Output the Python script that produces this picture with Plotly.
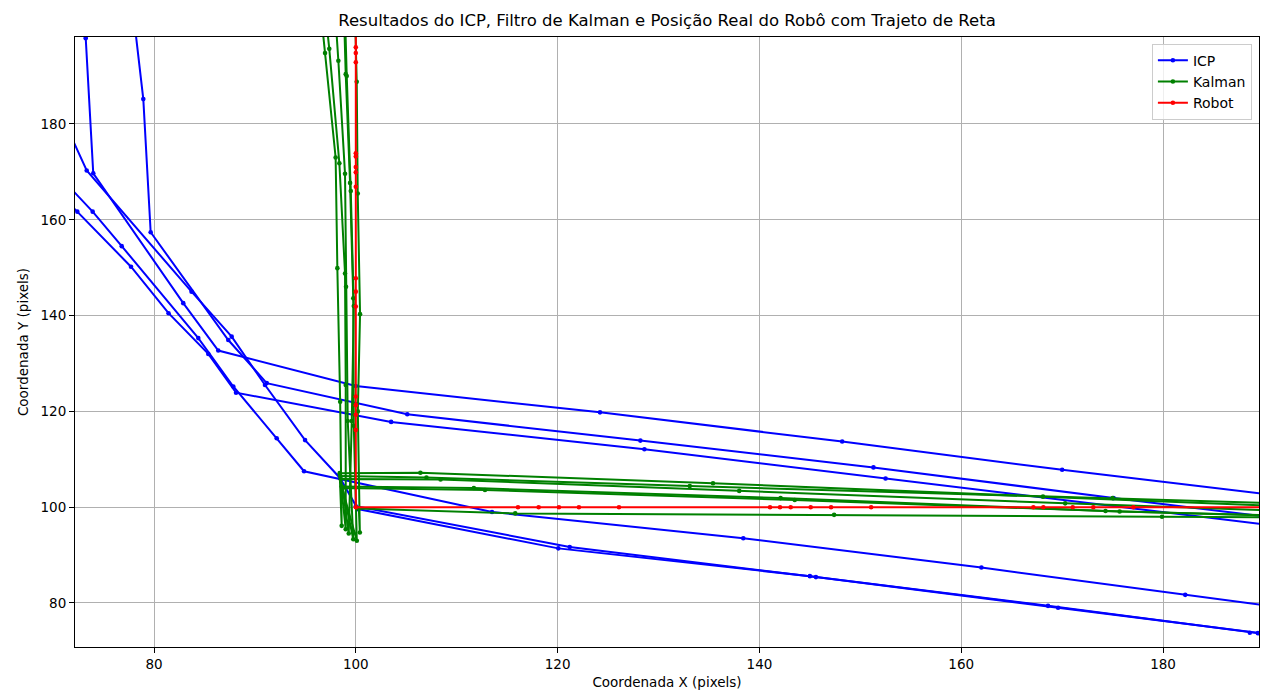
import plotly.graph_objects as go

# ---------------- data ----------------
# ICP estimate: passes (steep leg from upper-left, then shallow leg to the right)
icp_x_p1 = [72.78, 73.23, 73.98, 82.9, 86.37, 100.0, 124.2, 148.2, 170.0, 205.0]
icp_y_p1 = [215.0, 197.9, 169.7, 142.6, 132.7, 125.3, 119.8, 113.7, 107.8, 99.0]
icp_x_p2 = [77.3, 78.94, 79.67, 87.36, 91.17, 105.1, 128.2, 151.3, 175.1, 205.0]
icp_y_p2 = [215.0, 185.2, 157.4, 134.9, 125.9, 119.4, 113.9, 108.3, 101.9, 94.2]
icp_x_p3 = [66.0, 72.4, 77.72, 81.44, 85.38, 88.13, 103.5, 128.6, 152.5, 205.0]
icp_y_p3 = [175.5, 161.7, 150.2, 140.5, 132.0, 123.9, 117.8, 112.1, 106.0, 92.6]
icp_x_p4 = [66.0, 73.92, 76.8, 84.39, 87.86, 92.16, 94.87, 113.5, 138.4, 162.0, 182.2, 205.0]
icp_y_p4 = [179.4, 161.7, 154.5, 135.3, 125.2, 114.4, 107.5, 99.0, 93.5, 87.4, 81.7, 75.3]
icp_x_p5 = [66.0, 73.33, 83.72, 87.7, 91.0, 94.97, 98.43, 100.2, 120.07, 145.0, 168.6, 188.6, 205.0]
icp_y_p5 = [204.0, 170.3, 145.0, 135.6, 125.5, 114.0, 106.1, 99.6, 91.4, 85.6, 79.4, 73.8, 69.4]
icp_x_p6 = [100.0, 121.2, 145.6, 169.6, 189.4, 205.0]
icp_y_p6 = [100.2, 91.7, 85.4, 79.0, 73.7, 69.6]

# Kalman filter estimate: six passes (down the x~98-100 line, then right along y~98-107)
kal_x_p1 = [96.46, 96.95, 98.0, 98.17, 98.45, 98.6, 98.4, 106.4, 135.4, 168.1, 205.0]
kal_y_p1 = [205.0, 194.8, 173.0, 149.9, 122.0, 96.1, 107.1, 107.2, 105.0, 102.2, 99.1]
kal_x_p2 = [96.9, 97.37, 98.37, 98.93, 99.0, 99.0, 98.45, 107.0, 133.1, 175.0, 205.0]
kal_y_p2 = [205.0, 195.7, 171.8, 148.8, 125.5, 95.4, 106.5, 106.2, 104.4, 101.9, 100.0]
kal_x_p3 = [97.9, 98.27, 98.93, 99.03, 99.2, 99.75, 98.5, 108.4, 138.0, 170.3, 205.0]
kal_y_p3 = [205.0, 193.2, 169.6, 146.0, 118.0, 93.3, 105.9, 105.8, 103.4, 100.8, 98.3]
kal_x_p4 = [98.8, 99.0, 99.43, 99.75, 99.8, 100.1, 98.6, 111.7, 142.1, 174.3, 205.0]
kal_y_p4 = [205.0, 190.4, 167.7, 143.6, 117.0, 93.0, 104.3, 104.0, 101.9, 99.2, 97.4]
kal_x_p5 = [99.9, 100.09, 100.19, 100.42, 100.2, 100.4, 100.3, 115.8, 147.4, 179.9, 205.0]
kal_y_p5 = [205.0, 188.8, 165.5, 140.3, 120.0, 94.7, 99.7, 98.7, 98.4, 98.0, 97.7]
kal_x_p6 = [98.9, 99.1, 99.5, 99.8, 99.6, 99.3, 98.7, 112.8, 143.5, 175.7, 205.0]
kal_y_p6 = [205.0, 190.0, 166.0, 142.0, 118.0, 94.5, 104.0, 103.6, 101.5, 99.1, 97.6]

# Real robot position: straight down x=100, then right along y=100
robot_x = [100.0] * 17 + [116.07, 118.12, 120.13, 122.11, 126.08, 141.05, 142.04, 143.1,
                          145.08, 147.1, 151.07, 167.15, 168.14, 171.05, 173.09, 177.06, 205.0]
robot_y = [205.0, 196.0, 194.8, 192.9, 173.9, 173.2, 171.0, 169.9, 166.9, 147.8, 145.0, 141.9,
           123.1, 121.3, 119.3, 116.1, 100.0] + [100.0] * 17

x_ticks = [80, 100, 120, 140, 160, 180]
y_ticks = [80, 100, 120, 140, 160, 180]
x_range = [72.17, 189.51]
y_range = [70.81, 198.16]


def join(passes):
    out = []
    for i, p in enumerate(passes):
        if i:
            out.append(None)
        out.extend(p)
    return out


icp_x = join([icp_x_p1, icp_x_p2, icp_x_p3, icp_x_p4, icp_x_p5, icp_x_p6])
icp_y = join([icp_y_p1, icp_y_p2, icp_y_p3, icp_y_p4, icp_y_p5, icp_y_p6])
kal_x = join([kal_x_p1, kal_x_p2, kal_x_p3, kal_x_p4, kal_x_p5, kal_x_p6])
kal_y = join([kal_y_p1, kal_y_p2, kal_y_p3, kal_y_p4, kal_y_p5, kal_y_p6])

FONT = "DejaVu Sans"

fig = go.Figure()
for name, xs, ys, col in [("ICP", icp_x, icp_y, "#0000ff"),
                          ("Kalman", kal_x, kal_y, "#008000"),
                          ("Robot", robot_x, robot_y, "#ff0000")]:
    fig.add_trace(go.Scatter(
        x=xs, y=ys, name=name, mode="lines+markers",
        line=dict(color=col, width=2),
        marker=dict(color=col, size=4.6),
        connectgaps=False, cliponaxis=True,
    ))

axis_common = dict(
    showgrid=True, gridcolor="#b0b0b0", gridwidth=1,
    zeroline=False, showline=True, mirror=True, linecolor="black", linewidth=1,
    ticks="outside", ticklen=5, tickcolor="black", tickwidth=1,
    tickfont=dict(family=FONT, size=13.5, color="black"),
    automargin=False,
)

fig.update_layout(
    width=1261, height=696,
    paper_bgcolor="white", plot_bgcolor="white",
    margin=dict(l=75, r=2, t=37, b=49),
    font=dict(family=FONT, color="black"),
    title=dict(text="Resultados do ICP, Filtro de Kalman e Posição Real do Robô com Trajeto de Reta",
               x=0.5, xref="paper", y=1 - 20 / 696, yref="container", yanchor="middle",
               xanchor="center", font=dict(family=FONT, size=16.5, color="black")),
    xaxis=dict(range=x_range, tickvals=x_ticks,
               title=dict(text="Coordenada X (pixels)", standoff=6,
                          font=dict(family=FONT, size=13.5, color="black")),
               **axis_common),
    yaxis=dict(range=y_range, tickvals=y_ticks,
               title=dict(text="Coordenada Y (pixels)", standoff=8,
                          font=dict(family=FONT, size=13.5, color="black")),
               **axis_common),
    legend=dict(x=0.994, y=0.989, xanchor="right", yanchor="top",
                bgcolor="rgba(255,255,255,0.8)", bordercolor="#cccccc", borderwidth=1,
                font=dict(family=FONT, size=14, color="black"),
                itemwidth=30, tracegroupgap=0),
    showlegend=True,
)

fig.write_html("out.html")
